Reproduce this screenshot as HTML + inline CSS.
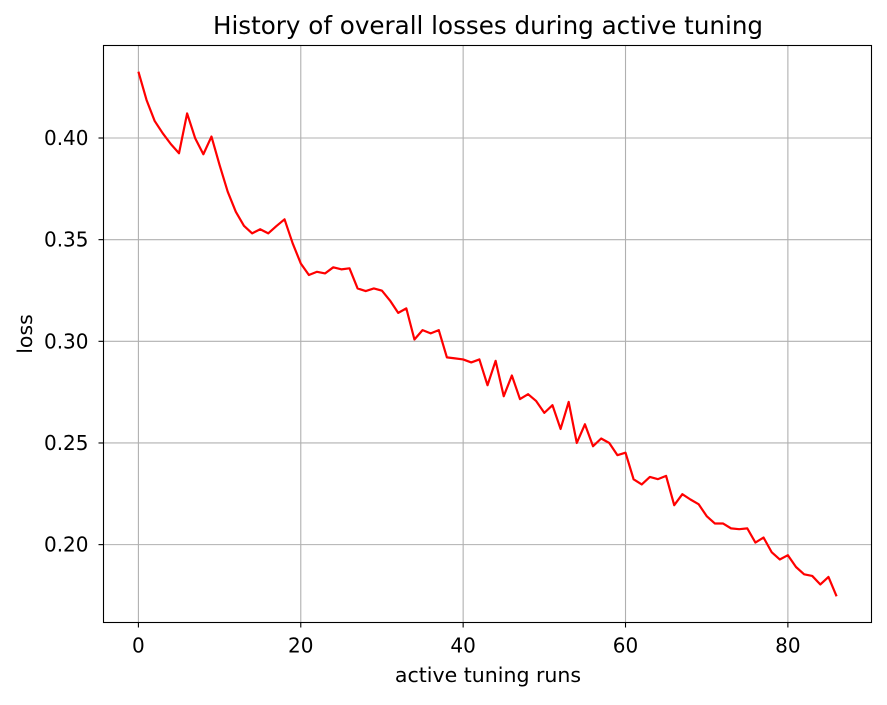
<!DOCTYPE html>
<html><head><meta charset="utf-8"><style>
body{margin:0;background:#fff;}
svg text{font-family:"DejaVu Sans","Liberation Sans",sans-serif;fill:#000;}
</style></head><body>
<svg id="chart" width="887" height="700" viewBox="0 0 887 700" xmlns="http://www.w3.org/2000/svg">
<rect width="887" height="700" fill="#fff"/>
<g id="grid"></g>
<g id="ticks"></g>
<path id="line" fill="none" stroke="#ff0000" stroke-width="2.2" stroke-linejoin="round"/>
<rect x="103.5" y="45.5" width="768" height="577" fill="none" stroke="#000" stroke-width="1.1"/>
<text x="488" y="34" text-anchor="middle" font-size="24.6">History of overall losses during active tuning</text>
<text x="488" y="682" text-anchor="middle" font-size="20.5">active tuning runs</text>
<text transform="translate(32,334) rotate(-90)" text-anchor="middle" font-size="20.5">loss</text>
</svg>
<script>
const losses = [0.4326,0.4187,0.4084,0.4023,0.397,0.3925,0.4121,0.3998,0.392,0.4007,
0.3867,0.3736,0.3637,0.3568,0.3531,0.3551,0.3531,0.3567,0.36,0.3482,
0.3383,0.3326,0.3342,0.3334,0.3364,0.3354,0.3359,0.326,0.3247,0.326,
0.3249,0.32,0.314,0.3162,0.3009,0.3055,0.3039,0.3055,0.2921,0.2916,
0.2911,0.2896,0.2911,0.2784,0.2904,0.273,0.2832,0.2716,0.274,0.2706,
0.2648,0.2686,0.2569,0.2702,0.25,0.2592,0.2484,0.2522,0.25,0.244,
0.2452,0.2321,0.2296,0.2333,0.2322,0.2338,0.2194,0.2248,0.2222,0.2199,
0.214,0.2104,0.2104,0.208,0.2076,0.208,0.201,0.2035,0.1963,0.1927,
0.1948,0.189,0.1854,0.1846,0.1804,0.1841,0.1746];
const xTicks = [0,20,40,60,80];
const yTicks = [0.20,0.25,0.30,0.35,0.40];
const yTickLabels = ["0.20","0.25","0.30","0.35","0.40"];

const L=103.5,R=871.5,T=45.5,B=622.5;
const n=losses.length;
const xmin=-(n-1)*0.05, xmax=(n-1)*1.05;
const lmin=Math.min(...losses), lmax=Math.max(...losses), pad=(lmax-lmin)*0.05;
const ymin=lmin-pad, ymax=lmax+pad;
const xs=v=>L+(v-xmin)/(xmax-xmin)*(R-L);
const ys=v=>B-(v-ymin)/(ymax-ymin)*(B-T);
const NS="http://www.w3.org/2000/svg";
const grid=document.getElementById('grid'), ticks=document.getElementById('ticks');
function mk(tag,attrs,parent){const e=document.createElementNS(NS,tag);for(const k in attrs)e.setAttribute(k,attrs[k]);parent.appendChild(e);return e;}
xTicks.forEach(t=>{
  const x=xs(t);
  const g=mk('line',{x1:x,x2:x,y1:T,y2:B,stroke:'#b0b0b0','stroke-width':1.1},grid);
  
  
  const tk=mk('line',{x1:x,x2:x,y1:B,y2:B+5,stroke:'#000','stroke-width':1.1},ticks);
  
  
  const lb=mk('text',{x:x,y:B+30,'text-anchor':'middle','font-size':'20'},ticks);
  lb.textContent=t;
  
  
});
yTicks.forEach((t,i)=>{
  const y=ys(t);
  const g=mk('line',{x1:L,x2:R,y1:y,y2:y,stroke:'#b0b0b0','stroke-width':1.1},grid);
  
  
  const tk=mk('line',{x1:L-5,x2:L,y1:y,y2:y,stroke:'#000','stroke-width':1.1},ticks);
  
  
  const lb=mk('text',{x:L-15,y:y+7,'text-anchor':'end','font-size':'20'},ticks);
  lb.textContent=yTickLabels[i];
  
  
});
document.getElementById('line').setAttribute('d',losses.map((v,i)=>(i?'L':'M')+xs(i).toFixed(2)+','+ys(v).toFixed(2)).join(''));
</script>
</body></html>
